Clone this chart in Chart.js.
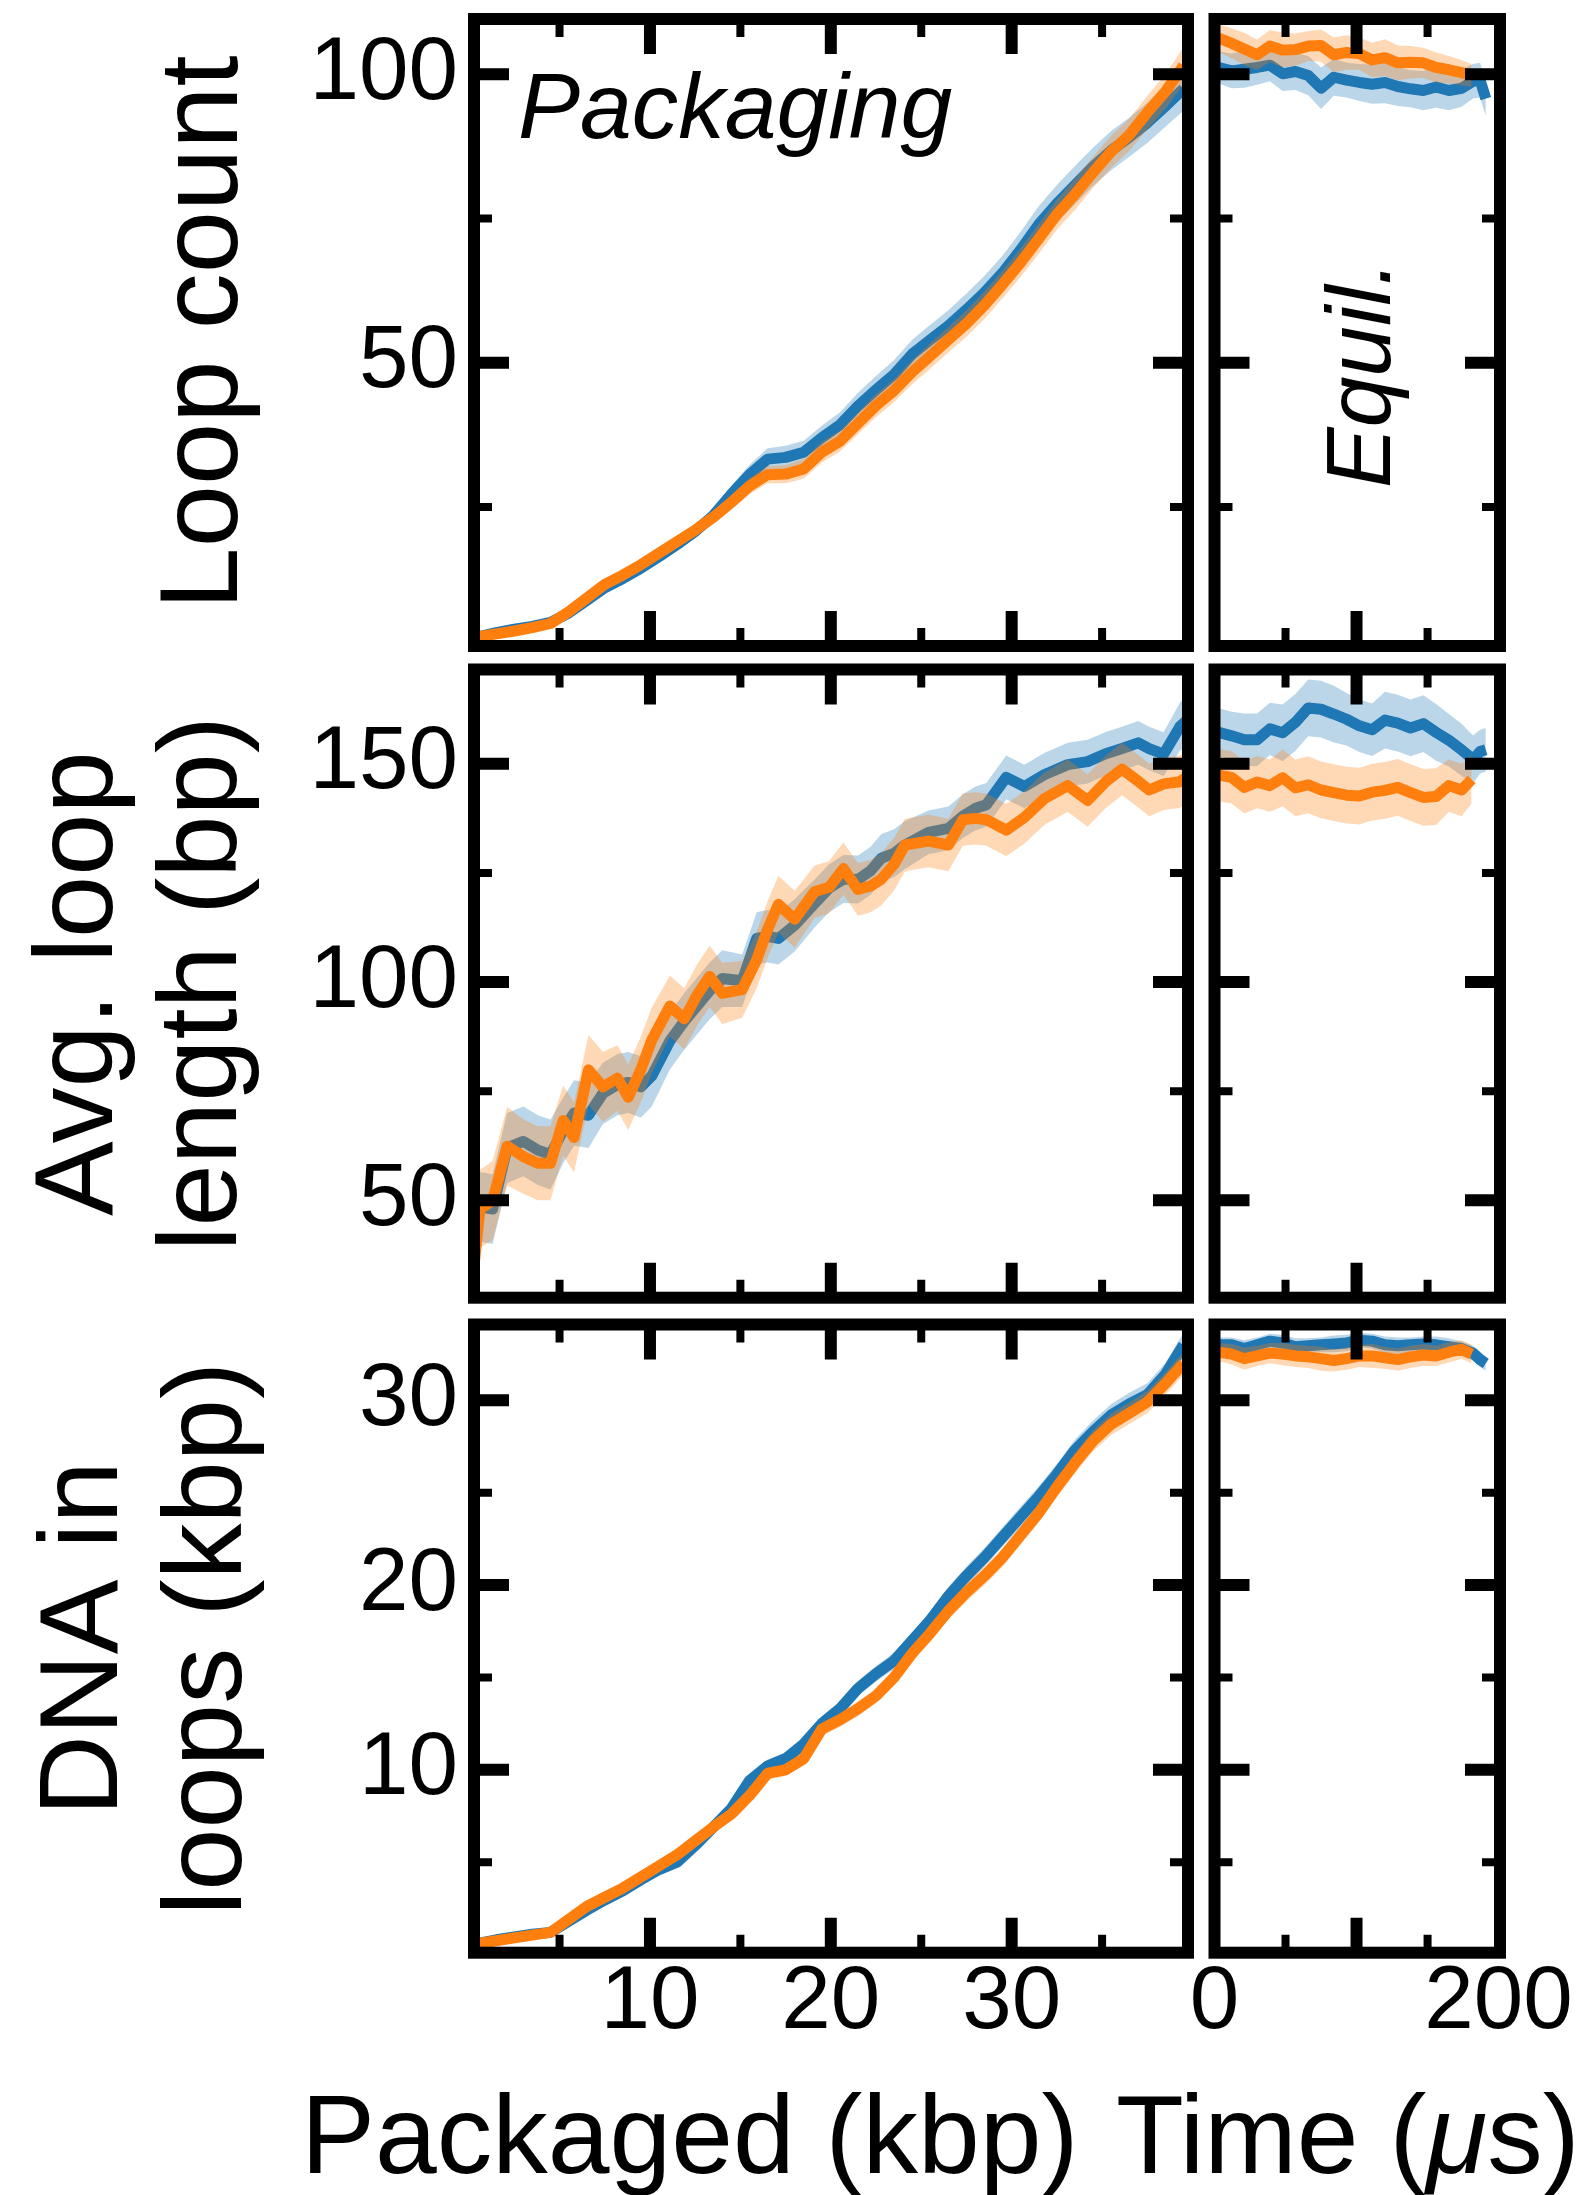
<!DOCTYPE html>
<html>
<head>
<meta charset="utf-8">
<script src="https://cdn.jsdelivr.net/npm/chart.js@4.4.1/dist/chart.umd.min.js"></script>
<style>
html, body { margin: 0; padding: 0; background: #fff; }
#page { position: relative; width: 1593px; height: 2195px; overflow: hidden; background: #fff; }
#page canvas { position: absolute; left: 0; }
</style>
</head>
<body>
<div id="page">
  <canvas id="r1L" width="1593" height="660" style="top:0px"></canvas>
  <canvas id="r1R" width="1593" height="660" style="top:0px"></canvas>
  <canvas id="r2L" width="1593" height="650" style="top:660px"></canvas>
  <canvas id="r2R" width="1593" height="650" style="top:660px"></canvas>
  <canvas id="r3L" width="1593" height="885" style="top:1310px"></canvas>
  <canvas id="r3R" width="1593" height="885" style="top:1310px"></canvas>
</div>
<script>
// packaging phase, x in kbp
const pkgX = [0.5, 1.5, 2.5, 3.5, 4.5, 5.5, 6.5, 7.5, 8.5, 9.5,
    10.5, 11.5, 12.5, 13.5, 14.5, 15.5, 16.5, 17.5, 18.5, 19.5,
    20.5, 21.5, 22.5, 23.5, 24.5, 25.5, 26.5, 27.5, 28.5, 29.5,
    30.5, 31.5, 32.5, 33.5, 34.5, 35.5, 36.5, 37.5, 38.5, 39.5];

const loopBlue = [2.5, 3.2, 3.8, 4.3, 5.0, 6.6, 8.8, 11.0, 12.6, 14.4,
    16.4, 18.5, 20.8, 23.5, 27.2, 30.6, 33.3, 33.6, 34.5, 37.0,
    39.2, 42.5, 45.3, 48.0, 51.5, 54.0, 56.4, 59.2, 62.2, 65.6,
    69.6, 74.0, 77.6, 80.8, 84.0, 86.8, 89.1, 91.6, 94.5, 97.5];
const loopBlueErr = [0.3, 0.3, 0.4, 0.4, 0.5, 0.6, 0.7, 0.8, 0.9, 1.0,
    1.0, 1.1, 1.2, 1.3, 1.5, 1.7, 1.9, 2.0, 2.0, 2.1,
    2.2, 2.3, 2.4, 2.5, 2.5, 2.6, 2.7, 2.8, 2.9, 3.0,
    3.1, 3.2, 3.2, 3.3, 3.3, 3.4, 3.4, 3.5, 3.6, 3.8];
const loopOrange = [2.5, 3.0, 3.5, 4.1, 4.8, 6.8, 9.2, 11.6, 13.2, 15.0,
    17.0, 19.0, 21.0, 23.2, 25.8, 28.6, 30.6, 30.7, 31.6, 34.5,
    36.4, 39.5, 42.6, 45.2, 48.4, 51.2, 54.0, 56.8, 60.0, 63.6,
    67.4, 71.5, 75.7, 79.2, 83.0, 86.6, 89.5, 93.4, 97.0, 101.5];
const loopOrangeErr = [0.3, 0.3, 0.4, 0.4, 0.5, 0.6, 0.7, 0.8, 0.8, 0.9,
    1.0, 1.0, 1.1, 1.2, 1.3, 1.4, 1.5, 1.6, 1.7, 1.8,
    1.8, 1.9, 2.0, 2.0, 2.1, 2.2, 2.2, 2.3, 2.4, 2.4,
    2.5, 2.6, 2.6, 2.7, 2.7, 2.8, 2.8, 2.9, 3.0, 3.2];

const pkgX2 = [0.3, 0.6, 1.3, 2.1, 3.0, 3.8, 4.5, 5.2, 5.8, 6.6,
    7.4, 8.2, 8.8, 9.5, 10.1, 11.1, 11.9, 12.6, 13.3, 14.0,
    15.1, 15.9, 16.5, 17.1, 18.0, 19.1, 19.9, 20.7, 21.5, 22.2,
    22.8, 23.5, 24.1, 25.4, 26.5, 27.3, 28.0, 28.6, 29.7, 30.7,
    31.8, 33.1, 34.2, 35.2, 36.1, 37.0, 37.6, 38.4, 39.3, 39.7];
const lenBlue = [44, 48.5, 48, 62, 63.5, 61.5, 60.5, 66, 70, 69.5,
    74.5, 76.5, 77, 76, 78.5, 86.5, 91, 94.5, 98, 100.8,
    100.3, 110, 110.5, 110, 113, 118, 121.5, 123.6, 123.5, 125.5,
    128.4, 129.5, 131.4, 134.3, 135.2, 138, 139.8, 140.6, 146.9, 144.8,
    147.5, 149.8, 150.5, 152.3, 153.5, 154.8, 153.5, 152.2, 158.5, 160];
const lenBlueErr = [9, 8, 8, 8, 8, 8, 8, 7.5, 7.5, 7.5,
    7, 7, 7, 7, 7, 6.5, 6.5, 6.5, 6.5, 6.5,
    6, 6, 6, 6, 6, 5.5, 5.5, 5.5, 5.5, 5.5,
    5.5, 5.5, 5.5, 5, 5, 5, 5, 5, 5, 5,
    5, 5, 5, 5, 5, 5, 5, 5, 5.5, 6];
const lenOrange = [36, 48, 50, 62.4, 60, 58.5, 58.5, 68.3, 64.4, 79.9,
    76, 78, 73.6, 80, 86.7, 94.5, 91.6, 97, 101.3, 97.4,
    98.3, 105.1, 112, 117.8, 114.4, 120.7, 121.7, 126, 121.2, 122,
    123.6, 127, 131.4, 132.3, 131.4, 137.2, 137.5, 137.2, 134.8, 137.7,
    142, 145, 141.6, 145.9, 148.8, 146, 144, 145.4, 145.9, 147];
const lenOrangeErr = [10, 9, 9, 9, 8.5, 8.5, 8.5, 8, 8, 8,
    8, 7.5, 7.5, 7.5, 7.5, 7, 7, 7, 7, 7,
    6.5, 6.5, 6.5, 6.5, 6.5, 6, 6, 6, 6, 6,
    6, 6, 6, 6, 6, 6, 6, 6, 6, 6,
    6, 6, 6, 6, 6, 6, 6, 6, 6, 6];

const dnaBlue = [0.6, 0.8, 0.95, 1.1, 1.2, 1.8, 2.4, 2.95, 3.45, 4.05,
    4.6, 5.0, 5.9, 6.9, 7.9, 9.4, 10.2, 10.6, 11.4, 12.5,
    13.3, 14.4, 15.2, 15.9, 17.0, 18.1, 19.4, 20.5, 21.5, 22.6,
    23.7, 24.8, 26.0, 27.3, 28.3, 29.2, 29.8, 30.3, 31.4, 33.0];
const dnaBlueErr = [0.08, 0.08, 0.1, 0.1, 0.1, 0.12, 0.15, 0.15, 0.18, 0.2,
    0.2, 0.22, 0.25, 0.28, 0.3, 0.32, 0.35, 0.35, 0.35, 0.38,
    0.4, 0.4, 0.42, 0.45, 0.45, 0.48, 0.5, 0.5, 0.5, 0.52,
    0.55, 0.55, 0.55, 0.58, 0.6, 0.6, 0.6, 0.62, 0.62, 0.65];
const dnaOrange = [0.6, 0.75, 0.9, 1.05, 1.2, 1.9, 2.6, 3.1, 3.6, 4.2,
    4.8, 5.4, 6.15, 6.9, 7.6, 8.6, 9.8, 10.0, 10.6, 12.2,
    12.7, 13.3, 14.0, 15.0, 16.3, 17.4, 18.6, 19.6, 20.5, 21.5,
    22.7, 23.9, 25.3, 26.6, 27.8, 28.7, 29.3, 29.9, 30.9, 32.0];
const dnaOrangeErr = [0.08, 0.08, 0.1, 0.1, 0.1, 0.12, 0.14, 0.15, 0.16, 0.18,
    0.2, 0.2, 0.22, 0.25, 0.28, 0.3, 0.32, 0.33, 0.35, 0.36,
    0.38, 0.4, 0.4, 0.42, 0.44, 0.45, 0.46, 0.48, 0.5, 0.5,
    0.52, 0.52, 0.54, 0.55, 0.56, 0.58, 0.58, 0.6, 0.6, 0.62];

// equilibration phase, time in microseconds
const tBlue = [3, 12, 21, 30, 39, 48, 57, 66, 75, 84, 93, 102, 111, 120,
    129, 138, 147, 156, 165, 174, 182, 187, 191];
const tOrange = [3, 12, 21, 30, 39, 48, 57, 66, 75, 84, 93, 102, 111, 120,
    129, 138, 147, 156, 165, 174, 181];

const eqLoopBlue = [101.2, 100.6, 100.9, 101.2, 101.6, 100.1, 100.5, 99.8, 97.6, 99.5,
    99.0, 98.6, 98.3, 98.6, 97.9, 97.5, 97.2, 97.8, 97.2, 97.6, 98.8, 99.0, 95.8];
const eqLoopBlueErr = [2.8, 3.0, 3.2, 3.0, 2.8, 3.0, 3.2, 3.4, 3.6, 3.2,
    3.0, 3.2, 3.4, 3.6, 3.4, 3.2, 3.4, 3.6, 3.4, 3.2, 3.0, 3.0, 3.0];
const eqLoopOrange = [106.3, 105.4, 104.4, 103.4, 104.9, 104.2, 104.3, 104.9, 105.0, 103.4,
    103.8, 103.6, 102.5, 102.9, 102.0, 102.1, 102.0, 101.2, 100.8, 100.3, 99.8];
const eqLoopOrangeErr = [2.4, 2.6, 2.8, 2.6, 2.8, 3.0, 2.8, 2.6, 2.8, 3.0,
    3.0, 2.8, 3.0, 3.2, 3.0, 2.8, 2.6, 2.6, 2.4, 2.2, 2.0];

const eqLenBlue = [157.2, 156.4, 155.5, 155.5, 158.0, 157.1, 159.5, 162.8, 162.5, 161.4,
    160.2, 158.7, 157.8, 160.0, 159.3, 158.2, 159.2, 157.2, 155.4, 153.2, 151.0, 152.8, 153.2];
const eqLenBlueErr = [5.5, 5.5, 6, 6, 6, 6.5, 6.5, 6.5, 6.5, 6.5,
    6, 6, 6, 6.5, 6.5, 6.5, 6.5, 6.5, 6, 6, 5.5, 5, 5];
const eqLenOrange = [147.4, 146.9, 144.6, 145.8, 145.0, 146.8, 144.5, 145.2, 144.0, 143.4,
    142.8, 142.6, 143.5, 143.9, 144.6, 143.4, 142.3, 142.5, 145.0, 144.0, 146.4];
const eqLenOrangeErr = [6, 6, 6, 6, 6, 6.5, 6.5, 6.5, 6.5, 6.5,
    6.5, 6.5, 6.5, 6.5, 6.5, 6.5, 6.5, 6.5, 6, 6, 5.5];

const eqDnaBlue = [33.0, 33.0, 32.8, 33.0, 33.2, 33.1, 32.9, 32.95, 33.0, 33.05,
    33.1, 33.25, 33.2, 33.0, 32.95, 33.0, 33.05, 33.0, 32.9, 32.8, 32.55, 32.2, 32.0];
const eqDnaBlueErr = [0.4, 0.4, 0.45, 0.4, 0.4, 0.45, 0.45, 0.4, 0.4, 0.45,
    0.45, 0.4, 0.4, 0.45, 0.45, 0.4, 0.4, 0.45, 0.45, 0.4, 0.4, 0.4, 0.4];
const eqDnaOrange = [32.6, 32.5, 32.25, 32.4, 32.55, 32.5, 32.4, 32.35, 32.25, 32.15,
    32.25, 32.4, 32.4, 32.3, 32.2, 32.35, 32.45, 32.4, 32.6, 32.75, 32.5];
const eqDnaOrangeErr = [0.5, 0.55, 0.6, 0.55, 0.55, 0.6, 0.6, 0.6, 0.65, 0.6,
    0.6, 0.6, 0.65, 0.6, 0.6, 0.6, 0.6, 0.55, 0.55, 0.5, 0.5];

// ticks
const pkgTicks = [10, 20, 30];
const pkgMinor = [5, 15, 25, 35];
const timeTicks = [0, 100, 200];
const timeMinor = [50, 150];
const loopTicks = [50, 100];
const loopMinor = [25, 75];
const lenTicks = [50, 100, 150];
const lenMinor = [75, 125];
const dnaTicks = [10, 20, 30];
const dnaMinor = [5, 15, 25];

const FONT = 'Liberation Sans';
const BLUE = '#1f77b4';
const ORANGE = '#ff7f0e';
const BLUE_BAND = 'rgba(31,119,180,0.3)';
const ORANGE_BAND = 'rgba(255,127,14,0.3)';
const tickFont = { family: FONT, size: 89, lineHeight: 1.15 };
const titleFont = { family: FONT, size: 112, lineHeight: 1.107 };

function series(xs, mean, err, color, band) {
    const pts = (k) => xs.map((x, i) => ({ x: x, y: mean[i] + k * err[i] }));
    return [
        { data: pts(0), borderColor: color, borderWidth: 11, borderJoinStyle: 'round',
          pointRadius: 0, fill: false, tension: 0 },
        { data: pts(1), borderColor: 'transparent', borderWidth: 0, pointRadius: 0,
          fill: '+1', backgroundColor: band },
        { data: pts(-1), borderColor: 'transparent', borderWidth: 0, pointRadius: 0, fill: false },
    ];
}

// thick box and inward ticks on all four sides
function frame(xMajor, xMinor, yMajor, yMinor) {
    return {
        id: 'frame',
        afterDatasetsDraw(chart) {
            const { ctx, chartArea: a, scales } = chart;
            ctx.save();
            ctx.strokeStyle = '#000';
            const marks = (vals, scale, len, w) => {
                ctx.lineWidth = w;
                ctx.beginPath();
                vals.forEach(v => {
                    const p = scale.getPixelForValue(v);
                    if (scale.isHorizontal()) {
                        if (p < a.left + 8 || p > a.right - 8) return;
                        ctx.moveTo(p, a.top); ctx.lineTo(p, a.top + len);
                        ctx.moveTo(p, a.bottom); ctx.lineTo(p, a.bottom - len);
                    } else {
                        if (p < a.top + 8 || p > a.bottom - 8) return;
                        ctx.moveTo(a.left, p); ctx.lineTo(a.left + len, p);
                        ctx.moveTo(a.right, p); ctx.lineTo(a.right - len, p);
                    }
                });
                ctx.stroke();
            };
            marks(xMajor, scales.x, 35, 12);
            marks(xMinor, scales.x, 18, 8);
            marks(yMajor, scales.y, 35, 12);
            marks(yMinor, scales.y, 18, 8);
            ctx.lineWidth = 12;
            ctx.strokeRect(a.left, a.top, a.right - a.left, a.bottom - a.top);
            ctx.restore();
        }
    };
}

function notes(items) {
    return {
        id: 'notes',
        afterDraw(chart) {
            const ctx = chart.ctx;
            items.forEach(t => {
                ctx.save();
                ctx.translate(t.x, t.y);
                if (t.rot) ctx.rotate(t.rot);
                ctx.fillStyle = '#000';
                ctx.textAlign = 'left';
                ctx.textBaseline = 'alphabetic';
                let dx = 0;
                t.runs.forEach(r => {
                    ctx.font = (r.italic ? 'italic ' : '') + t.size + 'px "' + FONT + '"';
                    ctx.fillText(r.text, dx, 0);
                    dx += ctx.measureText(r.text).width;
                });
                ctx.restore();
            });
        }
    };
}

function makePanel(id, p) {
    return new Chart(document.getElementById(id), {
        type: 'line',
        data: { datasets: p.datasets },
        options: {
            responsive: false,
            animation: false,
            devicePixelRatio: 1,
            layout: { padding: p.padding },
            plugins: { legend: { display: false }, tooltip: { enabled: false } },
            scales: {
                x: {
                    type: 'linear', min: p.x.min, max: p.x.max, display: p.showX,
                    afterBuildTicks: (s) => { s.ticks = p.x.major.map(v => ({ value: v })); },
                    afterFit: (s) => {
                        if (p.showX) s.height = p.xHeight;
                        s.paddingLeft = 0; s.paddingRight = 0;
                    },
                    grid: { display: false, drawTicks: false },
                    border: { display: false },
                    ticks: { font: tickFont, color: '#000', padding: 0, maxRotation: 0, autoSkip: false,
                             callback: p.x.label || ((v) => v) },
                },
                y: {
                    type: 'linear', min: p.y.min, max: p.y.max, display: p.showY,
                    afterBuildTicks: (s) => { s.ticks = p.y.major.map(v => ({ value: v })); },
                    afterFit: (s) => {
                        if (p.showY) s.width = 474;
                        s.paddingTop = 0; s.paddingBottom = 0;
                    },
                    grid: { display: false, drawTicks: false },
                    border: { display: false },
                    ticks: { font: tickFont, color: '#000', padding: 16 },
                    title: { display: !!p.title, text: p.title, font: titleFont, color: '#000',
                             padding: { top: p.titlePad || 0, bottom: 0 } },
                },
            },
        },
        plugins: [frame(p.x.major, p.x.minor, p.y.major, p.y.minor), notes(p.notes || [])],
    });
}

const pkgAxis = { min: 0.27, max: 39.75, major: pkgTicks, minor: pkgMinor };
const timeAxis = { min: 0, max: 201, major: timeTicks, minor: timeMinor,
                   label: (v) => (v === 100 ? '' : v) };
const loopAxis = { min: 0.9, max: 109.6, major: loopTicks, minor: loopMinor };
const lenAxis = { min: 27.7, max: 171.6, major: lenTicks, minor: lenMinor };
const dnaAxis = { min: 0.1, max: 34.1, major: dnaTicks, minor: dnaMinor };

const padL = { left: 0, right: 405 };
const padR = { left: 1214.5, right: 93 };

// row 1: loop count
makePanel('r1L', {
    datasets: [...series(pkgX, loopOrange, loopOrangeErr, ORANGE, ORANGE_BAND),
               ...series(pkgX, loopBlue, loopBlueErr, BLUE, BLUE_BAND)],
    x: pkgAxis, y: loopAxis, showX: false, showY: true,
    padding: { ...padL, top: 19, bottom: 14 },
    title: 'Loop count', titlePad: 144,
    notes: [{ x: 518, y: 138, size: 93, runs: [{ text: 'Packaging', italic: true }] }],
});
makePanel('r1R', {
    datasets: [...series(tOrange, eqLoopOrange, eqLoopOrangeErr, ORANGE, ORANGE_BAND),
               ...series(tBlue, eqLoopBlue, eqLoopBlueErr, BLUE, BLUE_BAND)],
    x: timeAxis, y: loopAxis, showX: false, showY: false,
    padding: { ...padR, top: 19, bottom: 14 },
    notes: [{ x: 1390, y: 488, rot: -Math.PI / 2, size: 91, runs: [{ text: 'Equil.', italic: true }] }],
});

// row 2: average loop length
makePanel('r2L', {
    datasets: [...series(pkgX2, lenOrange, lenOrangeErr, ORANGE, ORANGE_BAND),
               ...series(pkgX2, lenBlue, lenBlueErr, BLUE, BLUE_BAND)],
    x: pkgAxis, y: lenAxis, showX: false, showY: true,
    padding: { ...padL, top: 9.5, bottom: 12.3 },
    title: ['Avg. loop', 'length (bp)'], titlePad: 19,
});
makePanel('r2R', {
    datasets: [...series(tOrange, eqLenOrange, eqLenOrangeErr, ORANGE, ORANGE_BAND),
               ...series(tBlue, eqLenBlue, eqLenBlueErr, BLUE, BLUE_BAND)],
    x: timeAxis, y: lenAxis, showX: false, showY: false,
    padding: { ...padR, top: 9.5, bottom: 12.3 },
});

// row 3: DNA in loops
makePanel('r3L', {
    datasets: [...series(pkgX, dnaOrange, dnaOrangeErr, ORANGE, ORANGE_BAND),
               ...series(pkgX, dnaBlue, dnaBlueErr, BLUE, BLUE_BAND)],
    x: pkgAxis, y: dnaAxis, showX: true, showY: true, xHeight: 242.3,
    padding: { ...padL, top: 14.5, bottom: 0 },
    title: ['DNA in', 'loops (kbp)'], titlePad: 24,
    notes: [{ x: 301, y: 863, size: 111, runs: [{ text: 'Packaged (kbp)' }] }],
});
makePanel('r3R', {
    datasets: [...series(tOrange, eqDnaOrange, eqDnaOrangeErr, ORANGE, ORANGE_BAND),
               ...series(tBlue, eqDnaBlue, eqDnaBlueErr, BLUE, BLUE_BAND)],
    x: timeAxis, y: dnaAxis, showX: true, showY: false, xHeight: 242.3,
    padding: { ...padR, top: 14.5, bottom: 0 },
    notes: [{ x: 1116, y: 863, size: 111,
              runs: [{ text: 'Time (' }, { text: 'μ', italic: true }, { text: 's)' }] }],
});
</script>
</body>
</html>
